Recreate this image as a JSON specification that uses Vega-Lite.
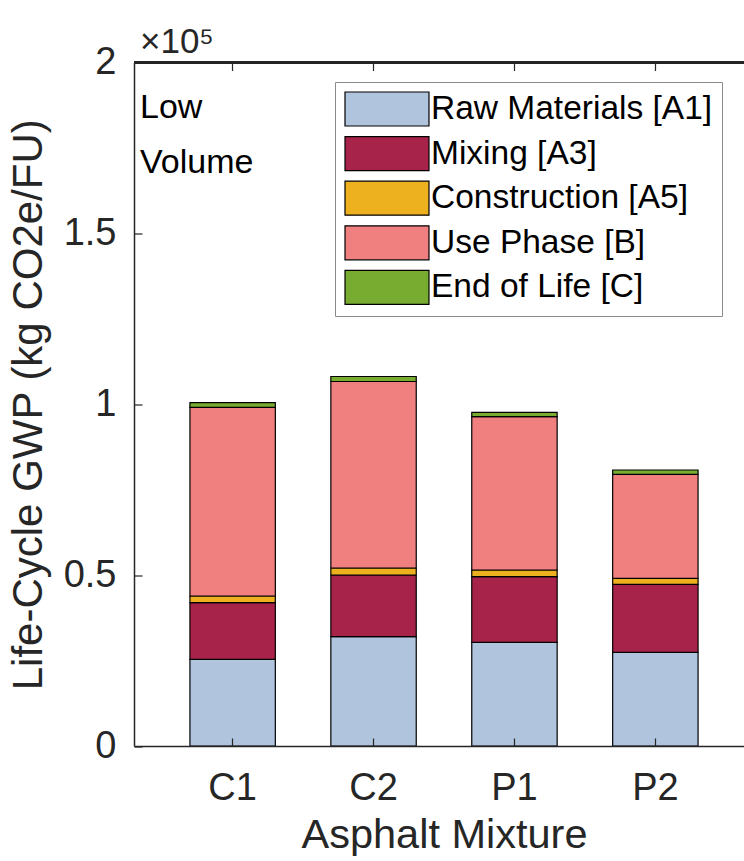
{
  "$schema": "https://vega.github.io/schema/vega-lite/v6.json",
  "width": 610,
  "height": 683.5,
  "autosize": "none",
  "padding": {"left": 134, "top": 62.5, "right": 0, "bottom": 115},
  "background": "white",
  "config": {"view": {"stroke": null}, "font": "Liberation Sans"},
  "title": {
    "text": "×10⁵",
    "subtitle": ["Low", "Volume"],
    "anchor": "start",
    "frame": "group",
    "orient": "top",
    "dx": 6,
    "offset": -136,
    "fontSize": 35,
    "fontWeight": "normal",
    "color": "#262626",
    "font": "Liberation Sans",
    "subtitleFont": "Liberation Sans",
    "subtitleFontSize": 34,
    "subtitleColor": "#000000",
    "subtitleLineHeight": 55,
    "subtitlePadding": 31
  },
  "data": {
    "values": [
      {"mixture": "C1", "stage": "Raw Materials [A1]", "ord": 1, "gwp": 25370},
      {"mixture": "C1", "stage": "Mixing [A3]", "ord": 2, "gwp": 16560},
      {"mixture": "C1", "stage": "Construction [A5]", "ord": 3, "gwp": 1960},
      {"mixture": "C1", "stage": "Use Phase [B]", "ord": 4, "gwp": 55220},
      {"mixture": "C1", "stage": "End of Life [C]", "ord": 5, "gwp": 1340},
      {"mixture": "C2", "stage": "Raw Materials [A1]", "ord": 1, "gwp": 32000},
      {"mixture": "C2", "stage": "Mixing [A3]", "ord": 2, "gwp": 18040},
      {"mixture": "C2", "stage": "Construction [A5]", "ord": 3, "gwp": 2050},
      {"mixture": "C2", "stage": "Use Phase [B]", "ord": 4, "gwp": 54570},
      {"mixture": "C2", "stage": "End of Life [C]", "ord": 5, "gwp": 1460},
      {"mixture": "P1", "stage": "Raw Materials [A1]", "ord": 1, "gwp": 30340},
      {"mixture": "P1", "stage": "Mixing [A3]", "ord": 2, "gwp": 19200},
      {"mixture": "P1", "stage": "Construction [A5]", "ord": 3, "gwp": 1960},
      {"mixture": "P1", "stage": "Use Phase [B]", "ord": 4, "gwp": 44860},
      {"mixture": "P1", "stage": "End of Life [C]", "ord": 5, "gwp": 1280},
      {"mixture": "P2", "stage": "Raw Materials [A1]", "ord": 1, "gwp": 27420},
      {"mixture": "P2", "stage": "Mixing [A3]", "ord": 2, "gwp": 19900},
      {"mixture": "P2", "stage": "Construction [A5]", "ord": 3, "gwp": 1750},
      {"mixture": "P2", "stage": "Use Phase [B]", "ord": 4, "gwp": 30430},
      {"mixture": "P2", "stage": "End of Life [C]", "ord": 5, "gwp": 1260}
    ]
  },
  "layer": [
    {
      "mark": {"type": "bar", "stroke": "#000000", "strokeWidth": 1.2},
      "encoding": {
        "x": {
          "field": "mixture",
          "type": "nominal",
          "sort": ["C1", "C2", "P1", "P2"],
          "scale": {"range": [0, 620], "paddingInner": 0.394, "paddingOuter": 0.397},
          "axis": {
            "orient": "bottom",
            "title": "Asphalt Mixture",
            "titleFontSize": 41.5,
            "titleFontWeight": "normal",
            "titleColor": "#262626",
            "titlePadding": 7,
            "labelAngle": 0,
            "labelFontSize": 38,
            "labelColor": "#262626",
            "labelPadding": 31,
            "tickSize": -8,
            "tickColor": "#262626",
            "tickWidth": 1.2,
            "domainColor": "#262626",
            "domainWidth": 1.5,
            "zindex": 1
          }
        },
        "y": {
          "field": "gwp",
          "type": "quantitative",
          "stack": "zero",
          "scale": {"domain": [0, 200000], "nice": false},
          "axis": {
            "title": "Life-Cycle GWP (kg CO2e/FU)",
            "titleFontSize": 42,
            "titleFontWeight": "normal",
            "titleColor": "#262626",
            "titlePadding": 13,
            "values": [0, 50000, 100000, 150000, 200000],
            "labelExpr": "format(datum.value / 100000, '~g')",
            "labelFontSize": 38,
            "labelColor": "#262626",
            "labelPadding": 26,
            "grid": false,
            "tickSize": -8,
            "tickColor": "#262626",
            "tickWidth": 1.2,
            "domainColor": "#262626",
            "domainWidth": 1.5,
            "zindex": 1
          }
        },
        "color": {
          "field": "stage",
          "type": "nominal",
          "scale": {
            "domain": ["Raw Materials [A1]", "Mixing [A3]", "Construction [A5]", "Use Phase [B]", "End of Life [C]"],
            "range": ["#b0c4de", "#a8234a", "#edb120", "#f08080", "#77ac30"]
          },
          "legend": {
            "orient": "none",
            "legendX": 201,
            "legendY": 19.5,
            "title": null,
            "symbolType": "M-1,-1H3.94V1H-1Z",
            "symbolSize": 1156,
            "symbolStrokeColor": "#000000",
            "symbolStrokeWidth": 1.2,
            "symbolOpacity": 1,
            "labelFontSize": 33.5,
            "labelColor": "#000000",
            "labelFont": "Liberation Sans",
            "labelOffset": 51,
            "labelLimit": 0,
            "rowPadding": 4.6,
            "padding": 9,
            "strokeColor": "#8a8a8a",
            "fillColor": "#ffffff"
          }
        },
        "order": {"field": "ord", "type": "quantitative", "sort": "ascending"}
      }
    },
    {
      "mark": {"type": "rule", "stroke": "#262626", "strokeWidth": 1.5},
      "encoding": {"y": {"datum": 200000}}
    },
    {
      "mark": {"type": "rule", "opacity": 0},
      "encoding": {
        "x": {
          "field": "mixture",
          "type": "nominal",
          "sort": ["C1", "C2", "P1", "P2"],
          "axis": {
            "orient": "top",
            "title": null,
            "labels": false,
            "tickSize": -8,
            "tickColor": "#262626",
            "tickWidth": 1.2,
            "domainColor": "#262626",
            "domainWidth": 1.5,
            "zindex": 1
          }
        }
      }
    }
  ],
  "resolve": {"axis": {"x": "independent"}}
}
